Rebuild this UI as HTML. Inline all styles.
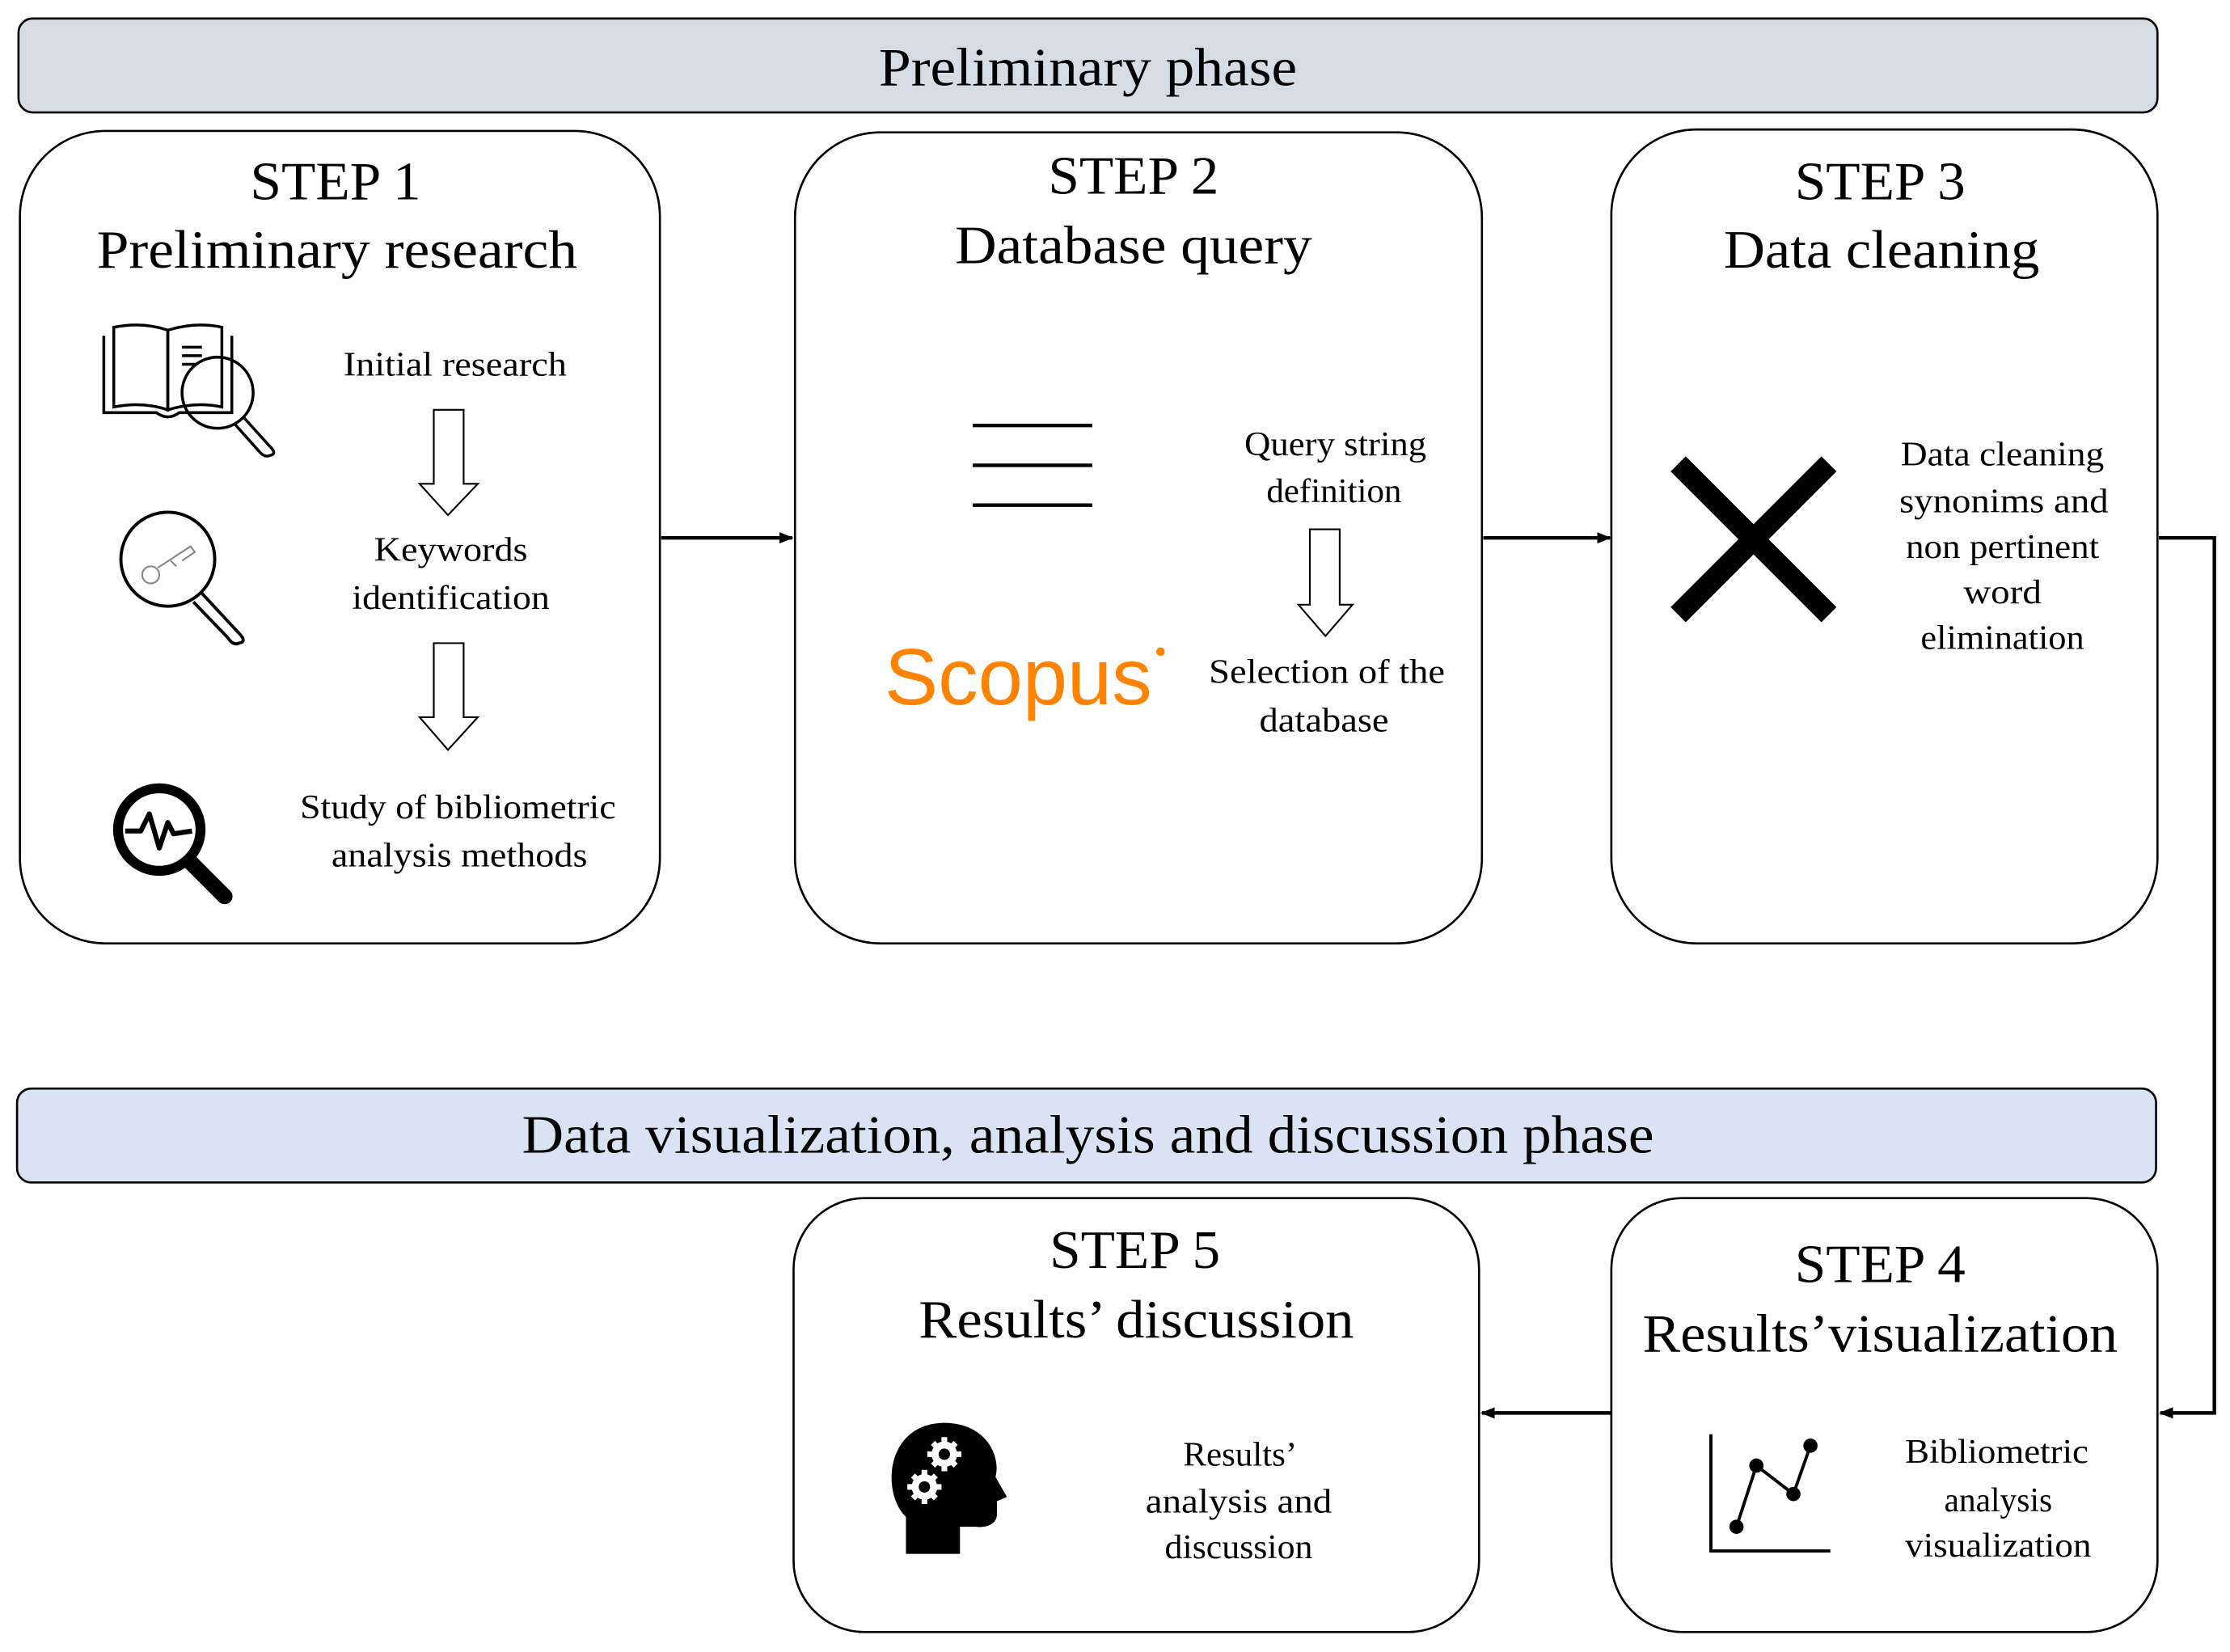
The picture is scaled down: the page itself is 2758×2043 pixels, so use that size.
<!DOCTYPE html>
<html><head><meta charset="utf-8"><style>html,body{margin:0;padding:0;background:#fff}svg{display:block}</style></head>
<body>
<svg width="2758" height="2043" viewBox="0 0 1568 1161" preserveAspectRatio="none" xmlns="http://www.w3.org/2000/svg" font-family="'Liberation Serif', serif">
<defs>
<marker id="ah" markerWidth="10" markerHeight="10" refX="9" refY="5" orient="auto" markerUnits="userSpaceOnUse"><path d="M0,1 L10,5 L0,9 Z" fill="#000"/></marker>
</defs>
<rect width="1568" height="1161" fill="#fff"/>
<rect x="13" y="13" width="1504" height="66" rx="10" fill="#d6dce4" stroke="#000" stroke-width="1.5"/>
<text x="765" y="60" font-size="38" text-anchor="middle" textLength="294" lengthAdjust="spacingAndGlyphs">Preliminary phase</text>
<rect x="12" y="765" width="1504" height="66" rx="10" fill="#dae3f3" stroke="#000" stroke-width="1.5"/>
<text x="765" y="810" font-size="38" text-anchor="middle" textLength="796" lengthAdjust="spacingAndGlyphs">Data visualization, analysis and discussion phase</text>

<g fill="#fff" stroke="#000" stroke-width="1.5">
<rect x="14" y="92" width="450" height="571" rx="60"/>
<rect x="559" y="93" width="483" height="570" rx="60"/>
<rect x="1133" y="91" width="384" height="572" rx="60"/>
<rect x="558" y="842" width="482" height="305" rx="50"/>
<rect x="1133" y="842" width="384" height="305" rx="50"/>
</g>

<g stroke="#000" stroke-width="2.5" fill="none">
<line x1="465" y1="378" x2="557" y2="378" marker-end="url(#ah)"/>
<line x1="1043" y1="378" x2="1132" y2="378" marker-end="url(#ah)"/>
<polyline points="1518,378 1557,378 1557,993 1519,993" marker-end="url(#ah)"/>
<line x1="1133" y1="993" x2="1042" y2="993" marker-end="url(#ah)"/>
</g>

<g font-size="38" text-anchor="middle" lengthAdjust="spacingAndGlyphs">
<text x="236" y="140" textLength="120" lengthAdjust="spacingAndGlyphs">STEP 1</text><text x="237" y="188" textLength="338" lengthAdjust="spacingAndGlyphs">Preliminary research</text>
<text x="797" y="136" textLength="120" lengthAdjust="spacingAndGlyphs">STEP 2</text><text x="797" y="185" textLength="251" lengthAdjust="spacingAndGlyphs">Database query</text>
<text x="1322" y="140" textLength="120" lengthAdjust="spacingAndGlyphs">STEP 3</text><text x="1323" y="188" textLength="222" lengthAdjust="spacingAndGlyphs">Data cleaning</text>
<text x="798" y="891" textLength="120" lengthAdjust="spacingAndGlyphs">STEP 5</text><text x="799" y="940" textLength="306" lengthAdjust="spacingAndGlyphs">Results’ discussion</text>
<text x="1322" y="901" textLength="120" lengthAdjust="spacingAndGlyphs">STEP 4</text><text x="1322" y="950" textLength="334" lengthAdjust="spacingAndGlyphs">Results’visualization</text>
</g>

<g font-size="24" text-anchor="middle">
<text x="320" y="264" textLength="157" lengthAdjust="spacingAndGlyphs">Initial  research</text>
<text x="317" y="394" textLength="108" lengthAdjust="spacingAndGlyphs">Keywords</text><text x="317" y="428" textLength="139" lengthAdjust="spacingAndGlyphs">identification</text>
<text x="322" y="575" textLength="222" lengthAdjust="spacingAndGlyphs">Study of bibliometric</text><text x="323" y="609" textLength="180" lengthAdjust="spacingAndGlyphs">analysis  methods</text>
<text x="939" y="320" textLength="128" lengthAdjust="spacingAndGlyphs">Query string</text><text x="938" y="353" textLength="95" lengthAdjust="spacingAndGlyphs">definition</text>
<text x="933" y="480" textLength="166" lengthAdjust="spacingAndGlyphs">Selection  of the</text><text x="931" y="514" textLength="91" lengthAdjust="spacingAndGlyphs">database</text>
<text x="1408" y="327" textLength="143" lengthAdjust="spacingAndGlyphs">Data cleaning</text><text x="1409" y="360" textLength="147" lengthAdjust="spacingAndGlyphs">synonims  and</text><text x="1408" y="392" textLength="136" lengthAdjust="spacingAndGlyphs">non pertinent</text><text x="1408" y="424" textLength="55" lengthAdjust="spacingAndGlyphs">word</text><text x="1408" y="456" textLength="115" lengthAdjust="spacingAndGlyphs">elimination</text>
<text x="872" y="1030" textLength="80" lengthAdjust="spacingAndGlyphs">Results’</text><text x="871" y="1063" textLength="131" lengthAdjust="spacingAndGlyphs">analysis  and</text><text x="871" y="1095" textLength="104" lengthAdjust="spacingAndGlyphs">discussion</text>
<text x="1404" y="1028" textLength="129" lengthAdjust="spacingAndGlyphs">Bibliometric</text><text x="1405" y="1062" textLength="76" lengthAdjust="spacingAndGlyphs">analysis</text><text x="1405" y="1094" textLength="131" lengthAdjust="spacingAndGlyphs">visualization</text>
</g>

<g fill="#fff" stroke="#000" stroke-width="1.2">
<path d="M305,288 H326 V340 H336 L315,362 L295,340 H305 Z"/>
<path d="M305,452 H326 V504 H336 L315,527 L295,504 H305 Z"/>
<path d="M921,372 H942 V425 H951 L932,447 L913,425 H921 Z"/>
</g>

<g fill="none" stroke="#000" stroke-width="2">
<path d="M73,236 V290 H110 Q118,296 126,290 H163 V236"/>
<path d="M80,230 Q100,226 118,232 V288 Q100,282 80,286 Z"/>
<path d="M118,232 Q138,226 156,230 V286 Q138,282 118,288 Z"/>
<line x1="128" y1="244" x2="142" y2="244"/><line x1="128" y1="250" x2="142" y2="250"/><line x1="128" y1="256" x2="138" y2="256"/>
<circle cx="153" cy="276" r="25" fill="none"/>
<path d="M171,293 L190,314 Q195,319 190,320 Q186,322 182,317 L165,298" />
</g>
<g fill="none" stroke="#000" stroke-width="2.2">
<circle cx="118" cy="393" r="33"/>
<path d="M142,417 L168,445 Q174,451 168,452 Q164,454 160,448 L136,423"/>
</g>
<g fill="none" stroke="#888" stroke-width="1.2">
<circle cx="106" cy="404" r="6"/>
<path d="M111,399 L134,384 L137,388 L128,394 M120,394 L124,398"/>
</g>
<g fill="none" stroke="#000">
<circle cx="112" cy="583" r="29" stroke-width="7"/>
<line x1="134" y1="606" x2="158" y2="630" stroke-width="11" stroke-linecap="round"/>
<polyline points="88,584 99,584 105,572 112,596 118,578 122,586 135,584" stroke-width="3.5" stroke-linejoin="round"/>
</g>

<g stroke="#000" stroke-width="2.5">
<line x1="684" y1="299" x2="768" y2="299"/><line x1="684" y1="327" x2="768" y2="327"/><line x1="684" y1="355" x2="768" y2="355"/>
</g>
<text x="622" y="495" font-family="'Liberation Sans', 'DejaVu Sans', sans-serif" font-size="56" fill="#ff8200" textLength="188" lengthAdjust="spacingAndGlyphs">Scopus</text>
<circle cx="816" cy="458" r="3" fill="#ff8200"/>

<g stroke="#000" stroke-width="15">
<line x1="1180" y1="326" x2="1286" y2="432"/><line x1="1286" y1="326" x2="1180" y2="432"/>
</g>

<path d="M637,1092 L637,1066 C620,1050 622,1002 662,1000 C692,999 704,1022 700,1038 L708,1052 L701,1055 L701,1064 C701,1071 694,1074 686,1073 L675,1073 L675,1092 Z" fill="#000"/>
<g fill="#fff">
<circle cx="664" cy="1022" r="9"/><circle cx="650" cy="1045" r="9"/>
<g stroke="#fff" stroke-width="4">
<line x1="664" y1="1010" x2="664" y2="1034"/><line x1="652" y1="1022" x2="676" y2="1022"/><line x1="656" y1="1014" x2="672" y2="1030"/><line x1="672" y1="1014" x2="656" y2="1030"/>
<line x1="650" y1="1033" x2="650" y2="1057"/><line x1="638" y1="1045" x2="662" y2="1045"/><line x1="642" y1="1037" x2="658" y2="1053"/><line x1="658" y1="1037" x2="642" y2="1053"/>
</g>
</g>
<circle cx="664" cy="1022" r="4" fill="#000"/><circle cx="650" cy="1045" r="4" fill="#000"/>

<g stroke="#000" stroke-width="2.2" fill="none">
<polyline points="1203,1008 1203,1090 1287,1090"/>
<polyline points="1221,1073 1235,1030 1261,1050 1273,1016"/>
</g>
<g fill="#000"><circle cx="1221" cy="1073" r="5"/><circle cx="1235" cy="1030" r="5"/><circle cx="1261" cy="1050" r="5"/><circle cx="1273" cy="1016" r="5"/></g>
</svg>
</body></html>
